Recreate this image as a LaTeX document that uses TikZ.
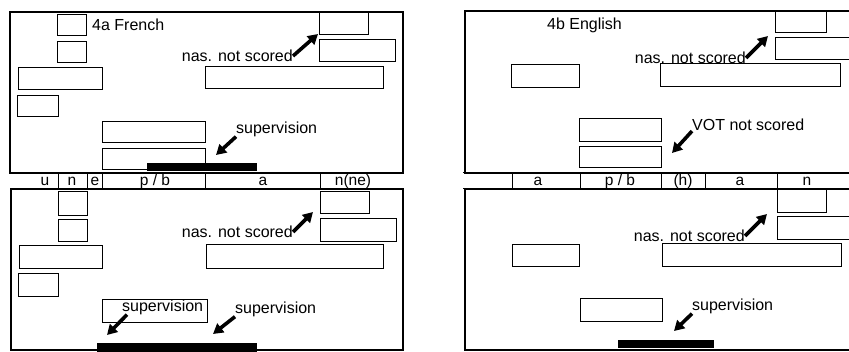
\documentclass[tikz,border=0pt]{standalone}
\usepackage{fontspec}
\setmainfont{Liberation Sans}
\usetikzlibrary{arrows.meta}
\tikzset{
  box/.style={draw,line width=1pt,inner sep=0pt,outer sep=0pt},
  panel/.style={draw,line width=1.1pt},
  lbl/.style={inner sep=0pt,font=\fontsize{16}{18}\selectfont},
  cell/.style={inner sep=0pt,font=\fontsize{15.5}{16}\selectfont},
  arr/.style={line width=3.6pt,-{Triangle[length=10pt,width=11pt]}},
  bar/.style={fill=black,draw=none}
}
\newcommand\bx[5]{\node[box,minimum width={(#4-#2)*1pt},minimum height={(#5-#3)*1pt}] (#1) at ({(#2+#4)/2},{(#3+#5)/2}) {};}
\begin{document}
\begin{tikzpicture}[x=1pt,y=-1pt]
\useasboundingbox (0,0) rectangle (849,352);
\clip (0,0) rectangle (849,352);
% ---------- panels ----------
\draw[panel] (10,12) rectangle (403,173);
\draw[panel] (11,189) rectangle (403,350);
\draw[panel] (860,11) -- (465,11) -- (465,173) -- (860,173);
\draw[panel] (860,189) -- (465,189) -- (465,350) -- (860,350);
% ---------- left strip ----------
\foreach \x in {58,87,102,205,320} \draw[line width=1pt] (\x,173) -- (\x,189);
\node[cell] (lu) at (45,181.5) {u};
\node[cell] (ln) at (72,181.5) {n};
\node[cell] (le) at (95,181.5) {e};
\node[cell] (lp) at (155,181.5) {p / b};
\node[cell] (la) at (263,181.5) {a};
\node[cell] (lnn) at (353,181.5) {n(ne)};
% ---------- right strip ----------
\draw[line width=1pt] (463,173) -- (465,173) (463,189) -- (465,189);
\foreach \x in {512,580,661,705,777} \draw[line width=1pt] (\x,173) -- (\x,189);
\node[cell] (ra) at (538,181.5) {a};
\node[cell] (rp) at (620,181.5) {p / b};
\node[cell] (rh) at (683,181.5) {(h)};
\node[cell] (ra2) at (740,181.5) {a};
\node[cell] (rn) at (807,181.5) {n};
% ---------- left top boxes ----------
\bx{a1}{57}{15}{86}{36}
\bx{a2}{57}{42}{86}{63}
\bx{a3}{18}{68}{102}{90}
\bx{a4}{17}{96}{58}{117}
\bx{a5}{102}{122}{205}{143}
\bx{a6}{102}{149}{205}{170}
\bx{a7}{319}{13}{368}{35}
\bx{a8}{319}{40}{395}{62}
\bx{a9}{205}{67}{383}{89}
\fill[bar] (147,163) rectangle (257,171);
\node[lbl,anchor=west] (fr) at (92,25) {4a French};
\node[lbl,anchor=east] (n1) at (293,56) {nas. not scored};
\coordinate (n1t) at (318,34);
\draw[arr] (n1.east) -- (n1t);
\node[lbl,anchor=west] (s1) at (236,129) {supervision};
\coordinate (s1t) at (216,155);
\draw[arr] (s1.south west) -- (s1t);
% ---------- left bottom boxes ----------
\bx{b1}{58}{192}{87}{216}
\bx{b2}{58}{220}{87}{242}
\bx{b3}{19}{246}{102}{269}
\bx{b4}{18}{274}{58}{297}
\bx{b5}{102}{300}{207}{323}
\bx{b6}{320}{192}{369}{214}
\bx{b7}{320}{219}{396}{242}
\bx{b8}{206}{245}{383}{269}
\fill[bar] (97,343) rectangle (257,352);
\node[lbl,anchor=east] (n2) at (293,232) {nas. not scored};
\coordinate (n2t) at (313,212);
\draw[arr] (n2.east) -- (n2t);
\node[lbl,anchor=west] (s2) at (122,307) {supervision};
\coordinate (s2t) at (107,335);
\draw[arr] (s2.south west) ++(5,0) -- (s2t);
\node[lbl,anchor=west] (s3) at (235,309) {supervision};
\coordinate (s3t) at (213,334);
\draw[arr] (s3.south west) -- (s3t);
% ---------- right top boxes ----------
\bx{c1}{775}{12}{826}{33}
\bx{c2}{775}{38}{860}{60}
\bx{c3}{511}{65}{579}{88}
\bx{c4}{660}{64}{840}{87}
\bx{c5}{579}{119}{661}{142}
\bx{c6}{579}{147}{661}{168}
\node[lbl,anchor=west] (en) at (547,25) {4b English};
\node[lbl,anchor=east] (n3) at (746,58) {nas. not scored};
\coordinate (n3t) at (768,36);
\draw[arr] (n3.east) -- (n3t);
\node[lbl,anchor=west] (v1) at (692,125) {VOT not scored};
\coordinate (v1t) at (672,153);
\draw[arr] (v1.south west) -- (v1t);
% ---------- right bottom boxes ----------
\bx{d1}{777}{190}{826}{213}
\bx{d2}{777}{217}{860}{240}
\bx{d3}{512}{245}{579}{267}
\bx{d4}{662}{244}{841}{267}
\bx{d5}{580}{299}{662}{322}
\fill[bar] (618,340) rectangle (714,348);
\node[lbl,anchor=east] (n4) at (745,236) {nas. not scored};
\coordinate (n4t) at (767,214);
\draw[arr] (n4.east) -- (n4t);
\node[lbl,anchor=west] (s4) at (692,306) {supervision};
\coordinate (s4t) at (674,331);
\draw[arr] (s4.south west) -- (s4t);
\end{tikzpicture}
\end{document}
